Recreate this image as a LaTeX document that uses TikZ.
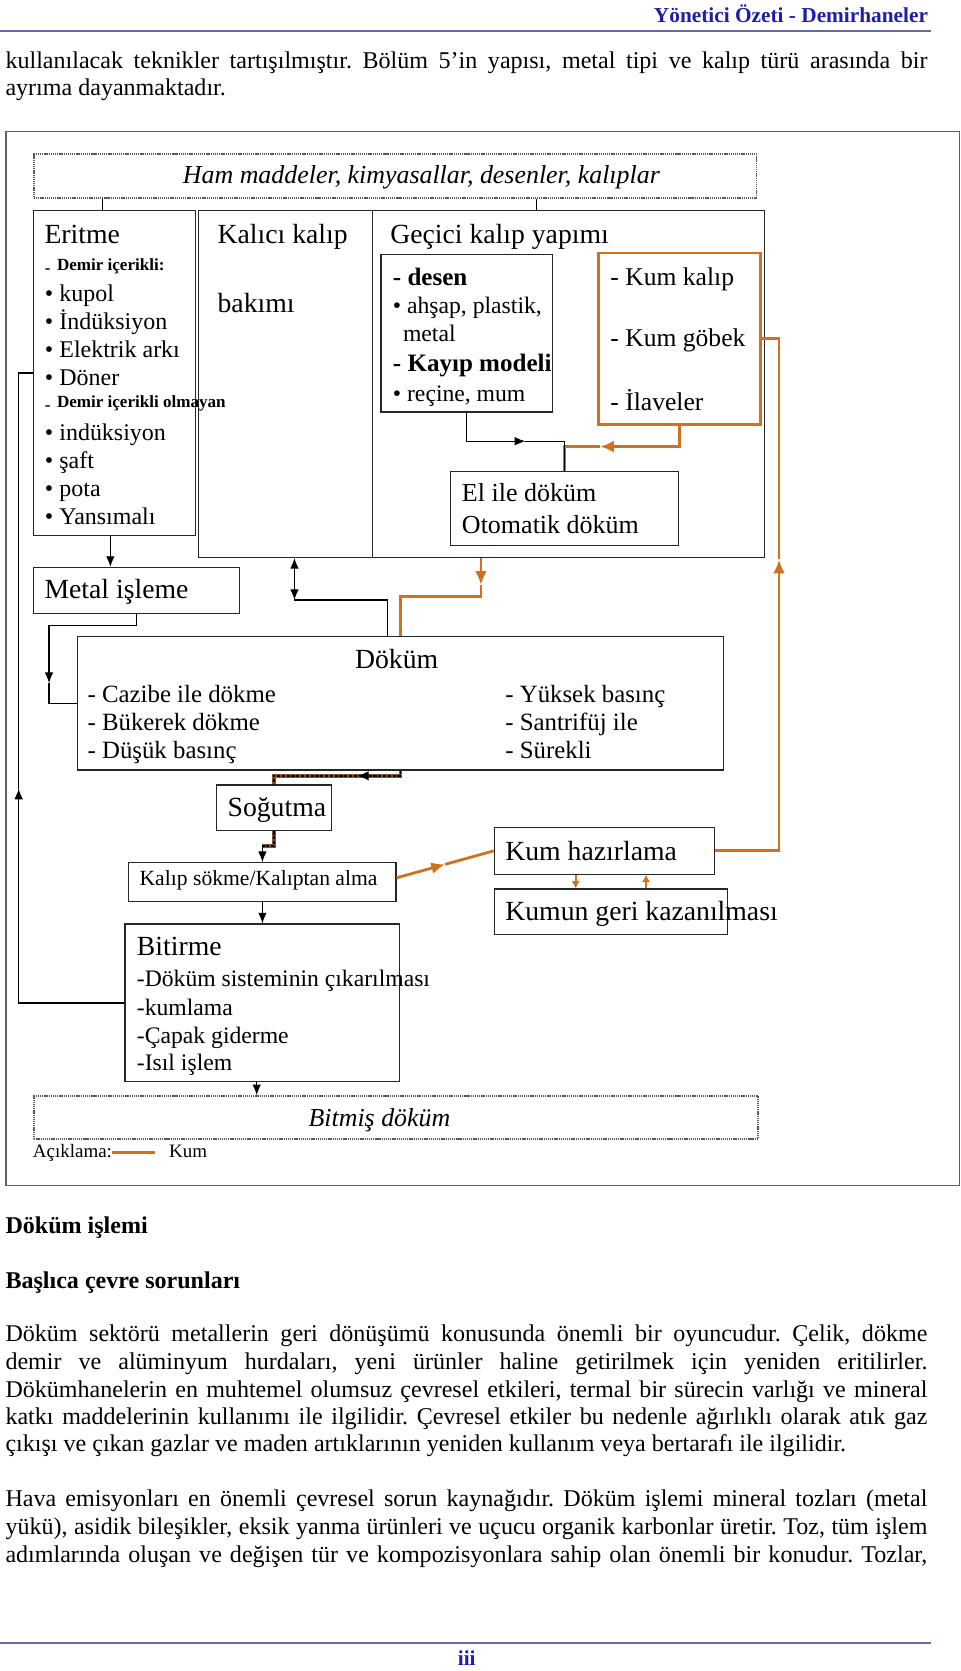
\documentclass[tikz,border=0pt]{standalone}
\usepackage{fontspec}
\setmainfont{Liberation Serif}
\usetikzlibrary{arrows.meta,calc}

\definecolor{kumorange}{RGB}{210,112,30}
\definecolor{hdrblue}{RGB}{30,30,170}
\definecolor{rulecol}{RGB}{105,105,165}
\definecolor{framegray}{RGB}{95,95,95}
\definecolor{coolbrown}{RGB}{130,85,40}

\newcommand{\fsz}[1]{\fontsize{#1}{#1}\selectfont}
\newcommand{\just}[1]{\makebox[865pt][s]{#1}}
\frenchspacing

\begin{document}
\begin{tikzpicture}[x=1pt,y=-1pt]
\tikzset{box/.style = {draw=black!85, line width=1.1pt, inner sep=0pt, anchor=north west}}
\tikzset{kumbox/.style = {box, draw=kumorange, line width=2.6pt}}
\tikzset{hambox/.style = {box, draw=black!65, line width=1.6pt, dash pattern=on 1.2pt off 0.8pt}}
\tikzset{txt/.style = {anchor=base west, inner sep=0pt, font=\fsz{22.5}}}
\tikzset{ttl/.style = {txt, font=\fsz{26}}}
\tikzset{sml/.style = {txt, font=\fsz{16}\bfseries}}
\tikzset{jline/.style = {txt, font=\fsz{22.56}}}
\tikzset{wire/.style = {line width=1.1pt}}
\tikzset{edge/.style = {wire, ->, >={Latex[length=10pt,width=8pt]}}}
\tikzset{sand/.style = {draw=kumorange, line width=2.6pt, >={Latex[length=13pt,width=11pt]}}}
\tikzset{cool/.style = {line width=1.3pt, dash pattern=on 3pt off 1.5pt, preaction={draw=coolbrown, line width=3.2pt, solid, -}, >={Latex[length=11pt,width=9pt]}}}
\useasboundingbox (0,0) rectangle (901,1568);

% page text above
\node[anchor=base east, inner sep=0pt, font=\fsz{20}\bfseries, text=hdrblue] (kopf) at (871,21) {Yönetici Özeti - Demirhaneler};
\draw[rulecol, line width=1.8pt] (0,29) -- (874,29);
\node[jline] (t1) at (5,64) {\just{kullanılacak teknikler tartışılmıştır. Bölüm 5’in yapısı, metal tipi ve kalıp türü arasında bir}};
\node[jline] (t2) at (5,90) {ayrıma dayanmaktadır.};

% boxes
\node[box, draw=framegray, line width=1.4pt, minimum width=894.5pt, minimum height=989pt] (frame) at (5,122.5) {};
\node[hambox, minimum width=678pt, minimum height=41pt] (ham) at (31,144) {};
\node[box, minimum width=152pt, minimum height=305pt] (eritme) at (31,197) {};
\node[box, minimum width=163.5pt, minimum height=325.5pt] (kalici) at (185.5,197) {};
\node[box, minimum width=367.5pt, minimum height=325.5pt] (gecici) at (349,197) {};
\node[box, minimum width=161pt, minimum height=148pt] (desen) at (357,238) {};
\node[kumbox, minimum width=152pt, minimum height=161pt] (kum) at (560,236) {};
\node[box, minimum width=213.5pt, minimum height=70pt] (elile) at (422.5,441.5) {};
\node[box, minimum width=193pt, minimum height=43pt] (metal) at (31,532) {};
\node[box, minimum width=606pt, minimum height=125pt] (dokum) at (72,597) {};
\node[box, minimum width=108pt, minimum height=43pt] (sogutma) at (202.4,736) {};
\node[box, minimum width=250.6pt, minimum height=36.3pt] (kalip) at (120.4,809) {};
\node[box, minimum width=257.3pt, minimum height=148.1pt] (bitirme) at (116.7,866.5) {};
\node[hambox, minimum width=679.2pt, minimum height=40.3pt] (bitmis) at (31.3,1027.7) {};
\node[box, minimum width=206.7pt, minimum height=43.7pt] (kumhaz) at (463.3,776) {};
\node[box, minimum width=218.7pt, minimum height=42.9pt] (kumun) at (463.3,833.7) {};

% texts in boxes
\node[txt, font=\fsz{24.3}\itshape] (hamT) at (171.5,172) {Ham maddeler, kimyasallar, desenler, kalıplar};
\node[ttl] (eritmeT) at (41.6,228.4) {Eritme};
\node[sml] (erS1) at (42,254) {\raisebox{-3pt}{-}\hspace{6pt}Demir içerikli:};
\foreach \w/\y [count=\i] in {kupol/283, İndüksiyon/309, Elektrik arkı/335.4, Döner/361.3}
  \node[txt] (erA\i) at (42,\y) {• \w};
\node[sml] (erS2) at (42,382.3) {\raisebox{-3pt}{-}\hspace{6pt}Demir içerikli olmayan};
\foreach \w/\y [count=\i] in {indüksiyon/413.6, şaft/439.9, pota/466, Yansımalı/492}
  \node[txt] (erB\i) at (42,\y) {• \w};
\node[ttl] (kaliciT) at (204,228.4) {Kalıcı kalıp};
\node[ttl] (kaliciU) at (204,293) {bakımı};
\node[ttl] (geciciT) at (366,228.4) {Geçici kalıp yapımı};
\node[txt, font=\fsz{23.5}\bfseries] (desT1) at (368.5,267.5) {- desen};
\node[txt, font=\fsz{22.2}] (desT2) at (368.5,294) {• ahşap, plastik,};
\node[txt, font=\fsz{22.2}] (desT3) at (378,320.7) {metal};
\node[txt, font=\fsz{23.5}\bfseries] (desT4) at (368.5,348.8) {- Kayıp modeli};
\node[txt, font=\fsz{22.2}] (desT5) at (368.5,376.4) {• reçine, mum};
\node[txt, font=\fsz{24}] (kumT1) at (572.6,267.5) {- Kum kalıp};
\node[txt, font=\fsz{24}] (kumT2) at (572.6,325.4) {- Kum göbek};
\node[txt, font=\fsz{24}] (kumT3) at (572.6,384.8) {- İlaveler};
\node[txt, font=\fsz{24.4}] (elT1) at (433.3,470.8) {El ile döküm};
\node[txt, font=\fsz{24.4}] (elT2) at (433.3,500.6) {Otomatik döküm};
\node[ttl] (metalT) at (41.6,562) {Metal işleme};
\node[ttl] (dokumT) at (333,627) {Döküm};
\foreach \w/\y [count=\i] in {Cazibe ile dökme/659.5, Bükerek dökme/685.8, Düşük basınç/711.7}
  \node[txt, font=\fsz{23.3}] (dkA\i) at (82,\y) {- \w};
\foreach \w/\y [count=\i] in {Yüksek basınç/659.5, Santrifüj ile/685.8, Sürekli/711.7}
  \node[txt, font=\fsz{23.3}] (dkB\i) at (474,\y) {- \w};
\node[ttl] (sogutmaT) at (213.4,766.5) {Soğutma};
\node[txt, font=\fsz{20.3}] (kalipT) at (130.8,830.6) {Kalıp sökme/Kalıptan alma};
\node[ttl] (bitirmeT) at (128.3,897) {Bitirme};
\foreach \w/\y [count=\i] in {Döküm sisteminin çıkarılması/926, kumlama/952.6, Çapak giderme/979.2, Isıl işlem/1004.9}
  \node[txt, font=\fsz{22.2}] (btA\i) at (128.3,\y) {-\w};
\node[txt, font=\fsz{24.3}\itshape] (bitmisT) at (289.4,1057.4) {Bitmiş döküm};
\node[ttl] (kumhazT) at (474,807) {Kum hazırlama};
\node[ttl] (kumunT) at (474,863.5) {Kumun geri kazanılması};
\node[txt, font=\fsz{17.8}] (acik) at (30.7,1086) {Açıklama:};
\node[txt, font=\fsz{17.8}] (kumlbl) at (158.6,1086) {Kum};

% connectors
\draw[wire] ([xshift=-11pt]eritme.north) -- ([xshift=-11pt]eritme.north |- ham.south);
\draw[wire] ([xshift=-30pt]gecici.north) -- ([xshift=-30pt]gecici.north |- ham.south);
\draw[edge] ([xshift=-4pt]eritme.south) -- ([xshift=-4pt]eritme.south |- metal.north);
\coordinate (mA) at (46,641);
\draw[edge] (metal.south) |- (46,587) -- (mA);
\draw[wire] (mA) |- (dokum.west);
\coordinate (kA) at ([xshift=8.5pt]kalici.south |- 0,563);
\draw[edge, <->] ([xshift=8.5pt]kalici.south) -- (kA);
\draw[wire] (kA) -| ([xshift=-12pt]dokum.north);
\coordinate (gA) at ([xshift=-82pt]gecici.south |- 0,549);
\draw[sand, ->] ([xshift=-82pt]gecici.south) -- (gA);
\draw[sand] (gA) -- ++(0,11) -| (dokum.north);
\coordinate (sA) at (563,419);
\draw[sand, ->] (kum.south) |- (sA);
\draw[sand] (sA) -| (elile.north);
\coordinate (dA) at (493,414);
\draw[edge] (desen.south) |- (dA);
\draw[wire] (dA) -| (elile.north);
\coordinate (hA) at (731,525);
\draw[sand, ->] (kumhaz.east) -| (hA);
\draw[sand] (hA) |- (kum.east);
\coordinate (pA) at ($([yshift=4pt]kalip.east)!0.5!(kumhaz.west)$);
\draw[sand, ->] ([yshift=4pt]kalip.east) -- (pA);
\draw[sand] (pA) -- (kumhaz.west);
\draw[sand, line width=2pt, ->, >={Latex[length=7pt,width=8pt]}] ([xshift=-27pt]kumhaz.south) -- ([xshift=-27pt]kumhaz.south |- kumun.north);
\draw[sand, line width=2pt, ->, >={Latex[length=7pt,width=8pt]}] ([xshift=39pt]kumhaz.south |- kumun.north) -- ([xshift=39pt]kumhaz.south);
\coordinate (cA) at (335,728);
\draw[cool, ->] (dokum.south) |- (cA);
\draw[cool] (cA) -| (sogutma.north);
\coordinate (cB) at (kalip.north |- 0,794);
\draw[cool] (sogutma.south) |- (cB);
\draw[edge] (cB) -- (kalip.north);
\draw[edge] (kalip.south) -- (kalip.south |- bitirme.north);
\draw[edge] ([xshift=-5pt]bitirme.south) -- ([xshift=-5pt]bitirme.south |- bitmis.north);
\coordinate (bA) at (17.5,740);
\draw[edge] (bitirme.west) -| (bA);
\draw[wire] (bA) |- (eritme.west);
\draw[sand] (acik.east) -- ([xshift=-13pt]acik.east -| kumlbl.west);

% page text below
\node[jline, font=\fsz{22.56}\bfseries] (h1) at (5,1157) {Döküm işlemi};
\node[jline, font=\fsz{22.56}\bfseries] (h2) at (5,1209) {Başlıca çevre sorunları};
\node[jline] (p1) at (5,1259) {\just{Döküm sektörü metallerin geri dönüşümü konusunda önemli bir oyuncudur. Çelik, dökme}};
\node[jline] (p2) at (5,1285) {\just{demir ve alüminyum hurdaları, yeni ürünler haline getirilmek için yeniden eritilirler.}};
\node[jline] (p3) at (5,1311) {\just{Dökümhanelerin en muhtemel olumsuz çevresel etkileri, termal bir sürecin varlığı ve mineral}};
\node[jline] (p4) at (5,1336.6) {\just{katkı maddelerinin kullanımı ile ilgilidir. Çevresel etkiler bu nedenle ağırlıklı olarak atık gaz}};
\node[jline] (p5) at (5,1362.4) {çıkışı ve çıkan gazlar ve maden artıklarının yeniden kullanım veya bertarafı ile ilgilidir.};
\node[jline] (q1) at (5,1414) {\just{Hava emisyonları en önemli çevresel sorun kaynağıdır. Döküm işlemi mineral tozları (metal}};
\node[jline] (q2) at (5,1439.7) {\just{yükü), asidik bileşikler, eksik yanma ürünleri ve uçucu organik karbonlar üretir. Toz, tüm işlem}};
\node[jline] (q3) at (5,1465.7) {\just{adımlarında oluşan ve değişen tür ve kompozisyonlara sahip olan önemli bir konudur. Tozlar,}};
\draw[rulecol, line width=1.8pt] (0,1542) -- (874,1542);
\node[anchor=base, inner sep=0pt, font=\fsz{20}\bfseries, text=hdrblue] (sayfa) at (438,1563) {iii};
\end{tikzpicture}
\end{document}
